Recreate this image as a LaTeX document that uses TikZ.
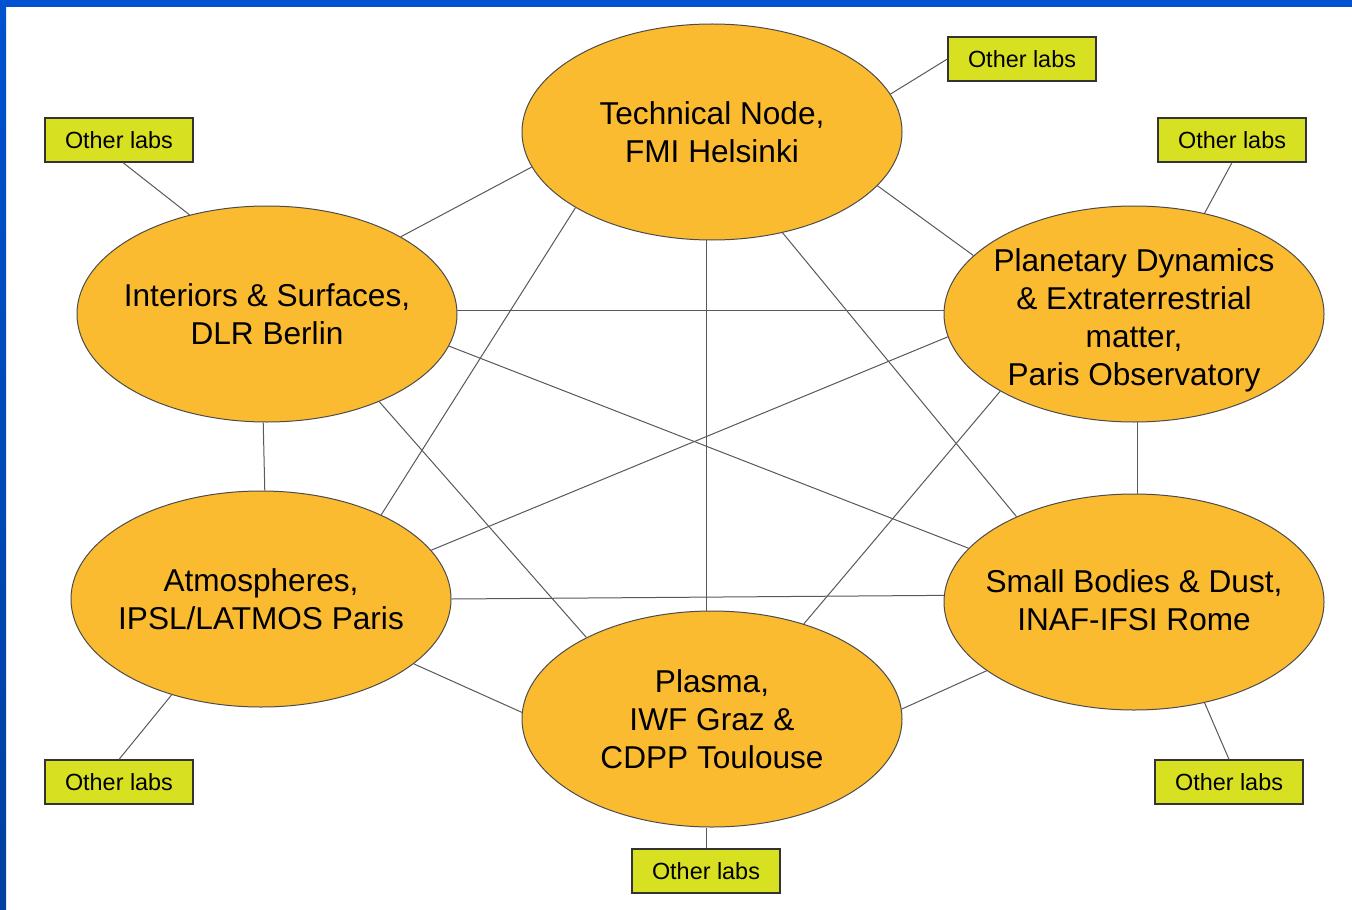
\documentclass[tikz,border=0pt]{standalone}
\usepackage{fontspec}
\setmainfont{Liberation Sans}
\usetikzlibrary{shapes.geometric}
\definecolor{hubfill}{RGB}{251,187,49}
\definecolor{labfill}{RGB}{216,224,34}
\definecolor{frameblue}{RGB}{0,82,208}
\definecolor{framedark}{RGB}{0,64,160}

\begin{document}
\begin{tikzpicture}[x=0.5pt,y=-0.5pt,
		hub/.style={ellipse,draw=black!70,line width=0.5pt,fill=hubfill,inner sep=0pt,minimum width=190pt,minimum height=108pt},
		hubtext/.style={align=center,font=\fontsize{15.8}{19}\selectfont},
		lab/.style={rectangle,draw=black!80,line width=0.6pt,fill=labfill,minimum width=74pt,minimum height=22pt,inner sep=0pt,font=\fontsize{11.7}{14}\selectfont},
		link/.style={draw=black!65,line width=0.5pt}]
				\useasboundingbox (0,0) rectangle (1352,909);
				\fill[white] (0,0) rectangle (1352,909);
				\fill[frameblue] (0,0) rectangle (1352,7);
				\shade[top color=frameblue,bottom color=framedark] (0,0) rectangle (6,909);
				% centres
				\node[hub] (tech) at (712,132) {};
				\node[hub] (int) at (267,314) {};
				\node[hub] (pd) at (1134,314) {};
				\node[hub] (atm) at (261,599) {};
				\node[hub] (sb) at (1134,602) {};
				\node[hub] (pla) at (712,719) {};
				\node[hubtext] at (tech) {Technical Node,\\FMI Helsinki};
				\node[hubtext] at (int) {Interiors \& Surfaces,\\DLR Berlin};
				\node[hubtext] at ([yshift=-3pt]pd) {Planetary Dynamics\\\& Extraterrestrial\\matter,\\Paris Observatory};
				\node[hubtext] at (atm) {Atmospheres,\\IPSL/LATMOS Paris};
				\node[hubtext] at ([yshift=1pt]sb) {Small Bodies \& Dust,\\INAF-IFSI Rome};
				\node[hubtext] at (pla) {Plasma,\\IWF Graz \&\\CDPP Toulouse};
				% other labs
				\node[lab] (ltech) at (1022,59) {Other labs};
				\node[lab] (lint) at (119,140) {Other labs};
				\node[lab] (lpd) at (1232,140) {Other labs};
				\node[lab] (latm) at (119,782) {Other labs};
				\node[lab] (lsb) at (1229,782) {Other labs};
				\node[lab] (lpla) at (706,871) {Other labs};
				% links
				\draw[link] (tech.191) to (int.30);
				\draw[link] (tech.209) to (atm.35);
				\draw[link] (tech.267) to (pla.93);
				\draw[link] (tech.305) to (sb.144);
				\draw[link] (tech.342) to (pd.160);
				\draw[link] (tech.12) to (ltech.west);
				\draw[link] (int.1) to (pd.179);
				\draw[link] (int.350) to (sb.162);
				\draw[link] (int.322) to (pla.147);
				\draw[link] (int.268) to (atm.88);
				\draw[link] (int.128) to (lint.-80);
				\draw[link] (pd.187) to (atm.16);
				\draw[link] (pd.210) to (pla.46);
				\draw[link] (pd.272) to (sb.88);
				\draw[link] (pd.55) to (lpd.south);
				\draw[link] (atm.0) to (sb.178);
				\draw[link] (atm.337) to (pla.178);
				\draw[link] (atm.227) to (latm.north);
				\draw[link] (sb.205) to (pla.3);
				\draw[link] (sb.305) to (lsb.north);
				\draw[link] (lpla.north) to (lpla.north |- pla.south);
			\end{tikzpicture}
\end{document}
